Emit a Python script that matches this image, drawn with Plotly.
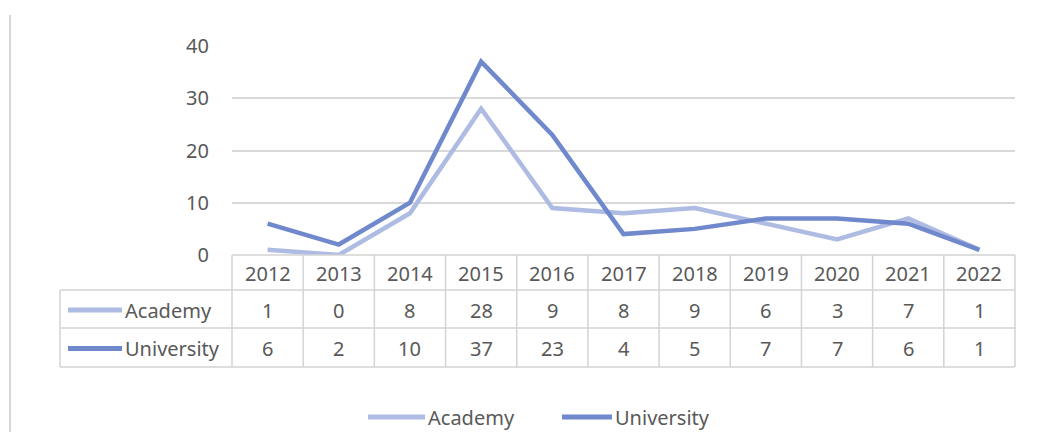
import plotly.graph_objects as go

years = ["2012", "2013", "2014", "2015", "2016", "2017", "2018", "2019", "2020", "2021", "2022"]
academy = [1, 0, 8, 28, 9, 8, 9, 6, 3, 7, 1]
university = [6, 2, 10, 37, 23, 4, 5, 7, 7, 6, 1]
series_names = ["Academy", "University"]
series_values = [academy, university]
series_colors = ["#AEBBE2", "#7088CC"]
y_ticks = [0, 10, 20, 30, 40]

OFF = 8  # page body margin
PAGE_W, PAGE_H = 1046, 432
W, H = PAGE_W - OFF, PAGE_H - OFF
L, R, T, B = 232, 1015, 46, 255  # plot area in page pixels
PW, PH = R - L, B - T

def px(x):
    return (x - L) / PW

def py(y):
    return (B - y) / PH

TXT = "#595959"
GRID = "#D9D9D9"
BORDER = "#D3D3D3"
FONT = "Noto Sans"
FS = 20

fig = go.Figure()
for name, vals, col in zip(series_names, series_values, series_colors):
    fig.add_trace(go.Scatter(x=years, y=vals, mode="lines", name=name,
                             line=dict(color=col, width=4.5), cliponaxis=False,
                             showlegend=False))

shapes = []
ann = []

def hline(x0, x1, y, color=BORDER, w=1.5):
    shapes.append(dict(type="line", xref="paper", yref="paper",
                       x0=px(x0), x1=px(x1), y0=py(y), y1=py(y),
                       line=dict(color=color, width=w)))

def vline(x, y0, y1, color=BORDER, w=1.5):
    shapes.append(dict(type="line", xref="paper", yref="paper",
                       x0=px(x), x1=px(x), y0=py(y0), y1=py(y1),
                       line=dict(color=color, width=w)))

# table geometry
TL = 60
rows_y = [255, 290, 328, 367]
n = len(years)
colw = PW / n

def colx(i):
    return px(L + (i + 0.5) * colw)

hline(L, R, rows_y[0])
for yy in rows_y[1:]:
    hline(TL, R, yy)
vline(TL, rows_y[1], rows_y[3])
for i in range(n + 1):
    vline(L + i * colw, rows_y[0], rows_y[3])

# left outer border line
vline(10, 15, 432, color="#D6D6D6", w=2)

# header years
for i, yr in enumerate(years):
    ann.append(dict(x=colx(i), xref="paper", y=py((rows_y[0] + rows_y[1]) / 2 + 1), yref="paper",
                    text=yr, showarrow=False, font=dict(family=FONT, size=FS, color=TXT),
                    xanchor="center", yanchor="middle"))

# series rows
for r, (name, vals, col) in enumerate(zip(series_names, series_values, series_colors)):
    cy = (rows_y[r + 1] + rows_y[r + 2]) / 2 + 1
    shapes.append(dict(type="line", xref="paper", yref="paper",
                       x0=px(68), x1=px(122), y0=py(cy), y1=py(cy),
                       line=dict(color=col, width=5)))
    ann.append(dict(x=px(123), xref="paper", y=py(cy), yref="paper", text=name,
                    showarrow=False, xanchor="left", yanchor="middle",
                    font=dict(family=FONT, size=FS, color=TXT)))
    for i, v in enumerate(vals):
        ann.append(dict(x=colx(i), xref="paper", y=py(cy), yref="paper", text=str(v),
                        showarrow=False, xanchor="center", yanchor="middle",
                        font=dict(family=FONT, size=FS, color=TXT)))

# bottom legend
leg = [(368, 425, 426), (562, 612, 613)]
for (x0, x1, xt), name, col in zip(leg, series_names, series_colors):
    shapes.append(dict(type="line", xref="paper", yref="paper",
                       x0=px(x0), x1=px(x1), y0=py(417), y1=py(417),
                       line=dict(color=col, width=5)))
    ann.append(dict(x=px(xt), xref="paper", y=py(417), yref="paper", text=name,
                    showarrow=False, xanchor="left", yanchor="middle",
                    font=dict(family=FONT, size=FS, color=TXT)))

fig.update_layout(
    width=W, height=H,
    margin=dict(l=L - OFF, r=PAGE_W - R, t=T - OFF, b=PAGE_H - B, pad=0),
    paper_bgcolor="white", plot_bgcolor="white",
    showlegend=False,
    shapes=shapes, annotations=ann,
    xaxis=dict(type="category", range=[-0.5, n - 0.5], showticklabels=False,
               showgrid=False, zeroline=False, showline=False, ticks=""),
    yaxis=dict(range=[0, 40], tickvals=y_ticks, showgrid=True, gridcolor=GRID,
               gridwidth=1.5, zeroline=False, showline=False, ticks="",
               ticklabelstandoff=22,
               tickfont=dict(family=FONT, size=FS, color=TXT)),
)

fig.write_html("out.html")
